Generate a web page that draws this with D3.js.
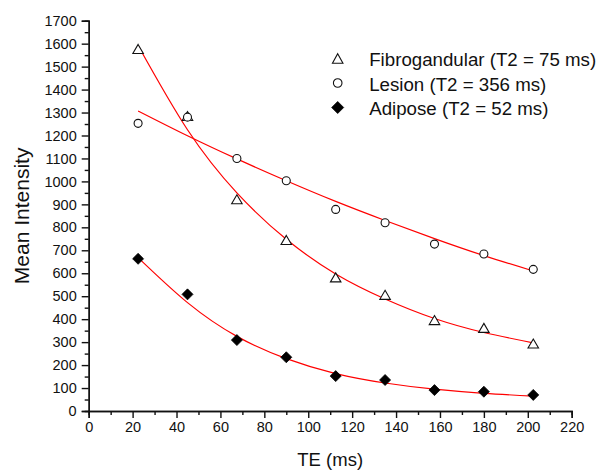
<!DOCTYPE html>
<html>
<head>
<meta charset="utf-8">
<script src="https://cdn.jsdelivr.net/npm/d3@7"></script>
<style>
  html, body { margin: 0; padding: 0; background: #fff; }
  svg { display: block; font-family: "Liberation Sans", Arial, sans-serif; }
</style>
</head>
<body>
<div id="chart"></div>
<script>
// echo times (ms)
const teValues = [22.5, 45, 67.5, 90, 112.5, 135, 157.5, 180, 202.5];

// measured mean intensities
const fibroglandular = [1577, 1285, 922, 745, 582, 506, 396, 362, 294];
const lesion = [1253, 1280, 1100, 1003, 878, 820, 727, 684, 617];
const adipose = [663, 508, 309, 234, 152, 135, 91, 84, 70];

// fitted decay curves at the same echo times
const fibroFit = [1592, 1225, 950, 748, 597, 488, 403, 342, 297];
const lesionFit = [1307, 1199, 1098, 1003, 913, 830, 751, 677, 610];
const adiposeFit = [668, 472, 325, 228, 163, 122, 95, 77, 65];

const legendLabels = [
  "Fibrogandular (T2 = 75 ms)",
  "Lesion (T2 = 356 ms)",
  "Adipose (T2 = 52 ms)"
];

const xMajorTicks = d3.range(0, 221, 20);
const xMinorTicks = d3.range(10, 220, 20);
const yMajorTicks = d3.range(0, 1701, 100);
const yMinorTicks = d3.range(50, 1700, 100);

const width = 611;
const height = 472;
const margin = { top: 20.7, right: 39.3, bottom: 61, left: 88.7 };
const plotW = width - margin.left - margin.right;
const plotH = height - margin.top - margin.bottom;

const svg = d3.select("#chart")
  .append("svg")
  .attr("width", width)
  .attr("height", height);

const g = svg.append("g")
  .attr("transform", `translate(${margin.left},${margin.top})`);

const x = d3.scaleLinear().domain([0, 220]).range([0, plotW]);
const y = d3.scaleLinear().domain([0, 1700]).range([plotH, 0]);

// axes
g.append("g")
  .attr("class", "x-axis")
  .attr("transform", `translate(0,${plotH})`)
  .call(d3.axisBottom(x).tickValues(xMajorTicks).tickSize(7).tickPadding(4)
    .tickFormat(d3.format("d")));

g.append("g")
  .attr("transform", `translate(0,${plotH})`)
  .call(d3.axisBottom(x).tickValues(xMinorTicks).tickSize(4).tickFormat(""));

g.append("g")
  .attr("class", "y-axis")
  .call(d3.axisLeft(y).tickValues(yMajorTicks).tickSize(7).tickPadding(5)
    .tickFormat(d3.format("d")));

g.append("g")
  .call(d3.axisLeft(y).tickValues(yMinorTicks).tickSize(4).tickFormat(""));

g.selectAll(".domain, .tick line")
  .attr("stroke", "#111")
  .attr("stroke-width", 1.4);

g.selectAll(".tick text")
  .attr("font-size", "14.5px")
  .attr("fill", "#111");

// axis titles
svg.append("text")
  .attr("x", margin.left + plotW / 2)
  .attr("y", 466)
  .attr("text-anchor", "middle")
  .attr("font-size", "18.5px")
  .attr("fill", "#111")
  .text("TE (ms)");

svg.append("text")
  .attr("transform", `translate(29,${margin.top + plotH / 2}) rotate(-90)`)
  .attr("text-anchor", "middle")
  .attr("font-size", "21px")
  .attr("fill", "#111")
  .text("Mean Intensity");

// fit curves
const fitLine = d3.line()
  .x((d, i) => x(teValues[i]))
  .y(d => y(d))
  .curve(d3.curveNatural);

[fibroFit, lesionFit, adiposeFit].forEach(fit => {
  g.append("path")
    .datum(fit)
    .attr("fill", "none")
    .attr("stroke", "#ff0000")
    .attr("stroke-width", 1.2)
    .attr("d", fitLine);
});

// marker shapes
function triangle(sel, w, h) {
  sel.append("path")
    .attr("d", `M0,${-h / 2}L${w / 2},${h / 2}L${-w / 2},${h / 2}Z`)
    .attr("fill", "#fff")
    .attr("stroke", "#111")
    .attr("stroke-width", 1.1);
}
function ring(sel, r) {
  sel.append("circle")
    .attr("r", r)
    .attr("fill", "#fff")
    .attr("stroke", "#111")
    .attr("stroke-width", 1.1);
}
function diamond(sel, s) {
  sel.append("path")
    .attr("d", `M0,${-s}L${s},0L0,${s}L${-s},0Z`)
    .attr("fill", "#000")
    .attr("stroke", "#000")
    .attr("stroke-width", 0.8);
}

const series = [
  { values: fibroglandular, draw: sel => triangle(sel, 10.5, 9) },
  { values: lesion, draw: sel => ring(sel, 4) },
  { values: adipose, draw: sel => diamond(sel, 5.5) }
];

series.forEach(s => {
  s.values.forEach((v, i) => {
    const m = g.append("g")
      .attr("transform", `translate(${x(teValues[i])},${y(v)})`);
    s.draw(m);
  });
});

// legend
const legend = svg.append("g").attr("transform", "translate(337.7,58.5)");
const legendMarks = [
  sel => triangle(sel, 10.5, 9.5),
  sel => ring(sel, 4.3),
  sel => diamond(sel, 6)
];

legendLabels.forEach((label, i) => {
  const row = legend.append("g").attr("transform", `translate(0,${i * 24.5})`);
  legendMarks[i](row);
  row.append("text")
    .attr("x", 31.5)
    .attr("y", 7.5)
    .attr("font-size", "18.7px")
    .attr("fill", "#111")
    .text(label);
});
</script>
</body>
</html>
